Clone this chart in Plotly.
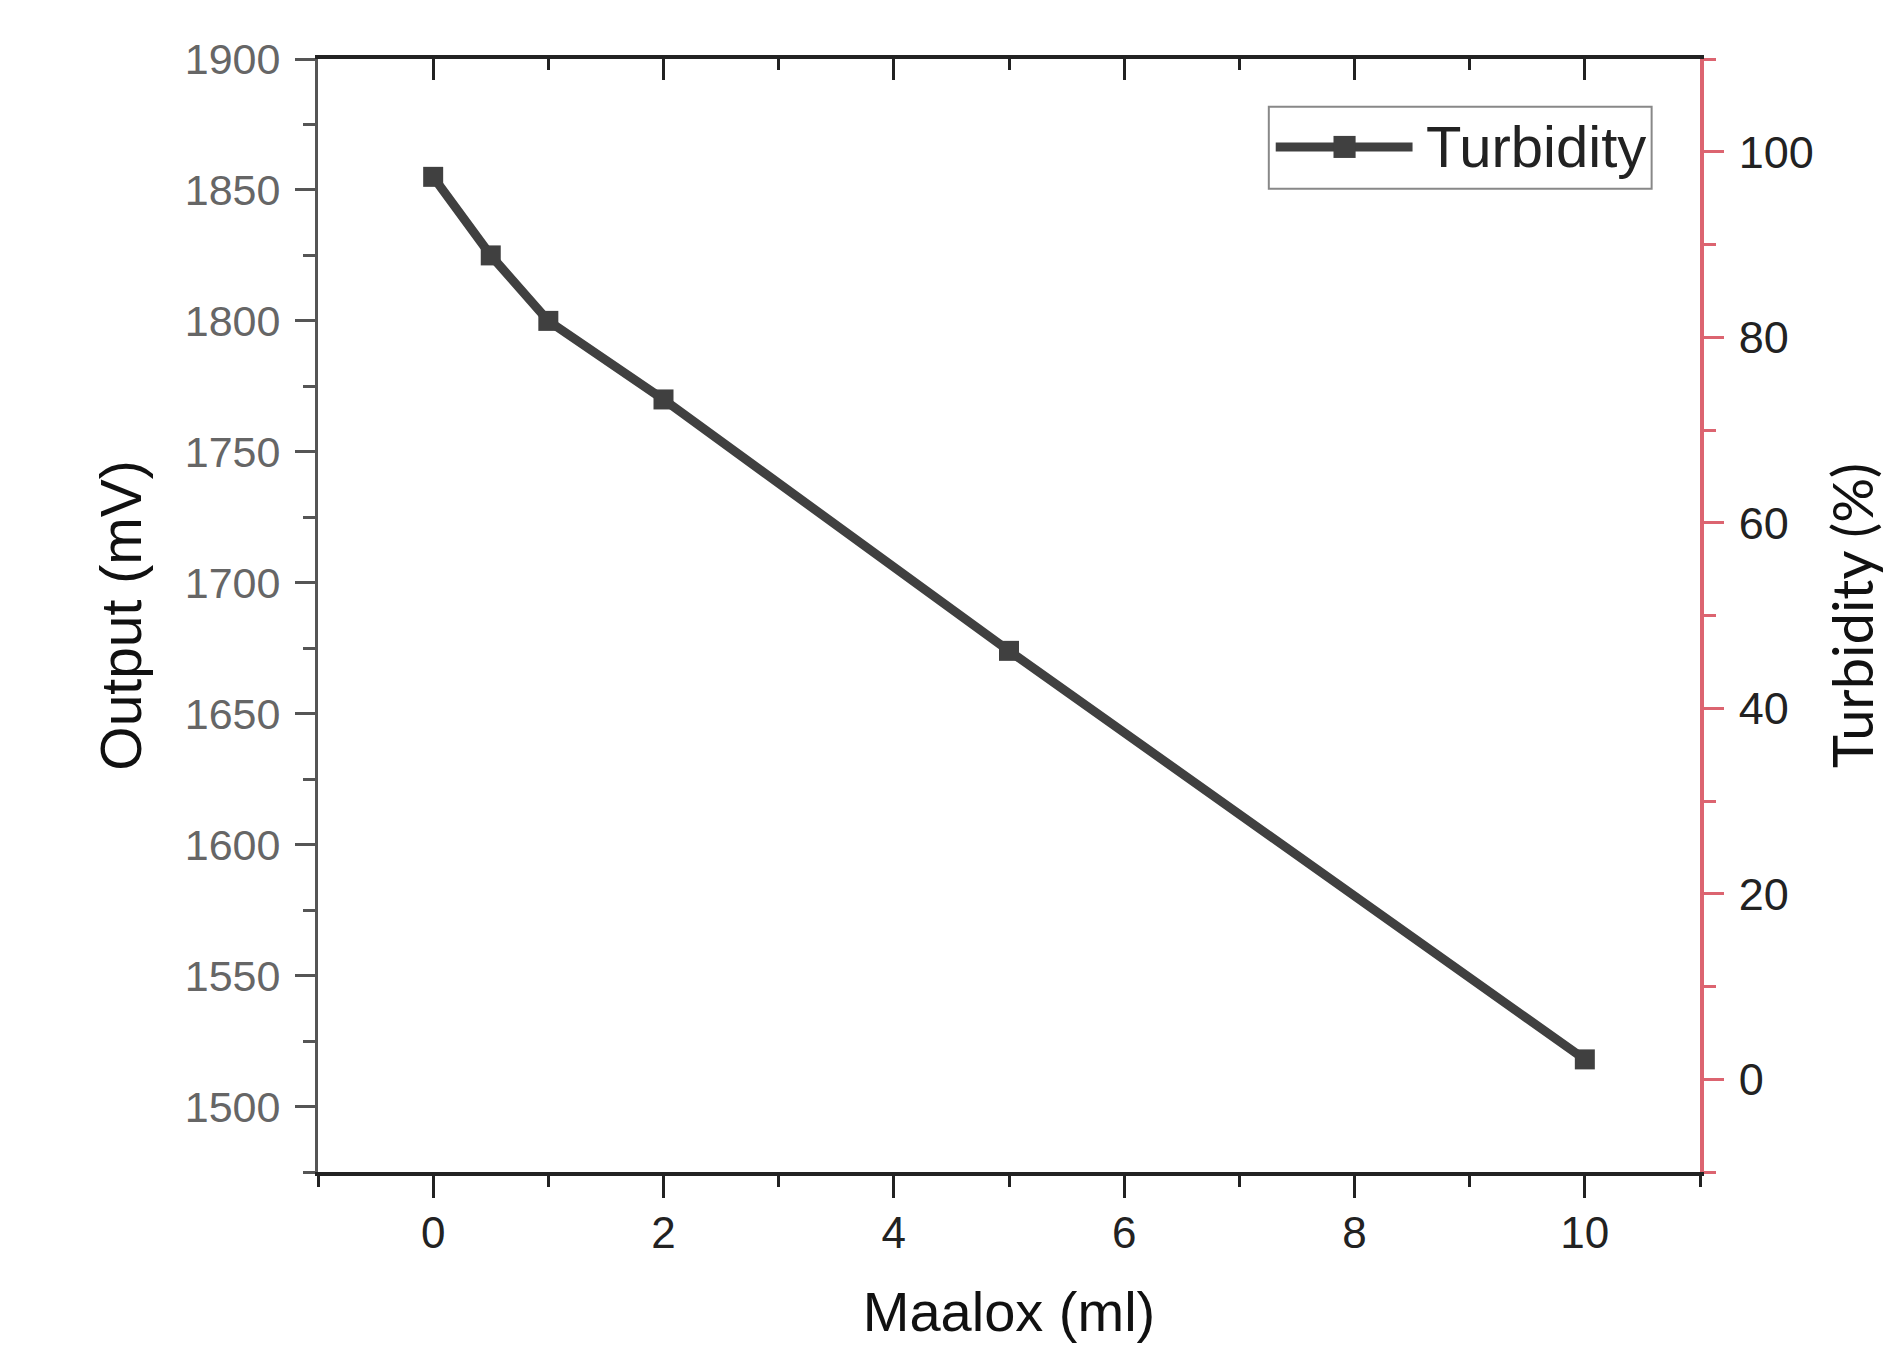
import plotly.graph_objects as go

# Data
maalox_ml = [0, 0.5, 1, 2, 5, 10]
output_mv = [1855, 1825, 1800, 1770, 1674, 1518]
series_name = "Turbidity"

x_range = [-1, 11]
y_range = [1475, 1900]
y2_range = [-10, 110]

x_title = "Maalox (ml)"
y_title = "Output (mV)"
y2_title = "Turbidity (%)"

LINE = "#404040"
RED = "#DC6470"
FONT = "Liberation Sans, Arial, sans-serif"

fig = go.Figure()
fig.add_trace(go.Scatter(
    x=maalox_ml, y=output_mv, name=series_name, mode="lines+markers",
    line=dict(color=LINE, width=9),
    marker=dict(symbol="square", size=20, color=LINE),
    xaxis="x", yaxis="y", showlegend=False,
))
# helper traces so the secondary axes are drawn
fig.add_trace(go.Scatter(x=[None], y=[None], xaxis="x", yaxis="y2",
                         showlegend=False, hoverinfo="skip"))
fig.add_trace(go.Scatter(x=[None], y=[None], xaxis="x2", yaxis="y",
                         showlegend=False, hoverinfo="skip"))

# Legend box drawn in paper coordinates (long line sample like the original)
leg_x0, leg_x1, leg_y0, leg_y1 = 0.688, 0.965, 0.8835, 0.957
leg_line_x0, leg_line_x1, leg_line_y = 0.693, 0.792, 0.921
leg_mark_x, leg_mark_hw, leg_mark_hh = 0.7428, 0.0080, 0.0099
fig.add_shape(type="rect", xref="paper", yref="paper",
              x0=leg_x0, x1=leg_x1, y0=leg_y0, y1=leg_y1,
              line=dict(color="#888", width=2), fillcolor="white", layer="above")
fig.add_shape(type="line", xref="paper", yref="paper",
              x0=leg_line_x0, x1=leg_line_x1, y0=leg_line_y, y1=leg_line_y,
              line=dict(color=LINE, width=9), layer="above")
fig.add_shape(type="rect", xref="paper", yref="paper",
              x0=leg_mark_x - leg_mark_hw, x1=leg_mark_x + leg_mark_hw,
              y0=leg_line_y - leg_mark_hh, y1=leg_line_y + leg_mark_hh,
              line=dict(width=0), fillcolor=LINE, layer="above")
fig.add_annotation(xref="paper", yref="paper", x=0.800, y=leg_line_y,
                   xanchor="left", yanchor="middle", showarrow=False,
                   text=series_name, font=dict(size=58, family=FONT, color="#222"))

fig.update_layout(
    width=1877, height=1335,
    paper_bgcolor="white", plot_bgcolor="white",
    margin=dict(l=310, r=185, t=51, b=171, autoexpand=False),
    font=dict(family=FONT, color="#222"),
    showlegend=False,
    xaxis=dict(
        range=x_range, dtick=2, tick0=0, automargin=False,
        showgrid=False, zeroline=False,
        showline=True, linecolor="#222", linewidth=4,
        ticks="outside", ticklen=22, tickwidth=3, tickcolor="#222",
        minor=dict(dtick=1, ticks="outside", ticklen=11, tickwidth=3, tickcolor="#222"),
        tickfont=dict(size=44, color="#222", family=FONT),
        ticklabelstandoff=-3,
        title=dict(text=x_title, font=dict(size=56, color="#111", family=FONT), standoff=46),
    ),
    xaxis2=dict(
        range=x_range, dtick=2, tick0=0, overlaying="x", side="top", automargin=False,
        showgrid=False, zeroline=False,
        showline=True, linecolor="#222", linewidth=4,
        ticks="inside", ticklen=21, tickwidth=3, tickcolor="#222",
        minor=dict(dtick=1, ticks="inside", ticklen=11, tickwidth=3, tickcolor="#222"),
        showticklabels=False,
    ),
    yaxis=dict(
        range=y_range, dtick=50, tick0=1500, automargin=False,
        showgrid=False, zeroline=False,
        showline=True, linecolor="#555", linewidth=3,
        ticks="outside", ticklen=20, tickwidth=3, tickcolor="#555",
        minor=dict(dtick=25, ticks="outside", ticklen=12, tickwidth=3, tickcolor="#555"),
        tickfont=dict(size=43, color="#666666", family=FONT),
        ticklabelstandoff=6,
        title=dict(text=y_title, font=dict(size=57, color="#111", family=FONT), standoff=25),
    ),
    yaxis2=dict(
        range=y2_range, dtick=20, tick0=0, overlaying="y", side="right", automargin=False,
        showgrid=False, zeroline=False,
        showline=True, linecolor=RED, linewidth=3.5,
        ticks="outside", ticklen=20, tickwidth=3, tickcolor=RED,
        minor=dict(dtick=10, ticks="outside", ticklen=12, tickwidth=3, tickcolor=RED),
        tickfont=dict(size=45, color="#222", family=FONT),
        ticklabelstandoff=6,
        title=dict(text=y2_title, font=dict(size=56, color="#111", family="Lato, sans-serif"), standoff=28),
    ),
)

fig.write_html("out.html")
